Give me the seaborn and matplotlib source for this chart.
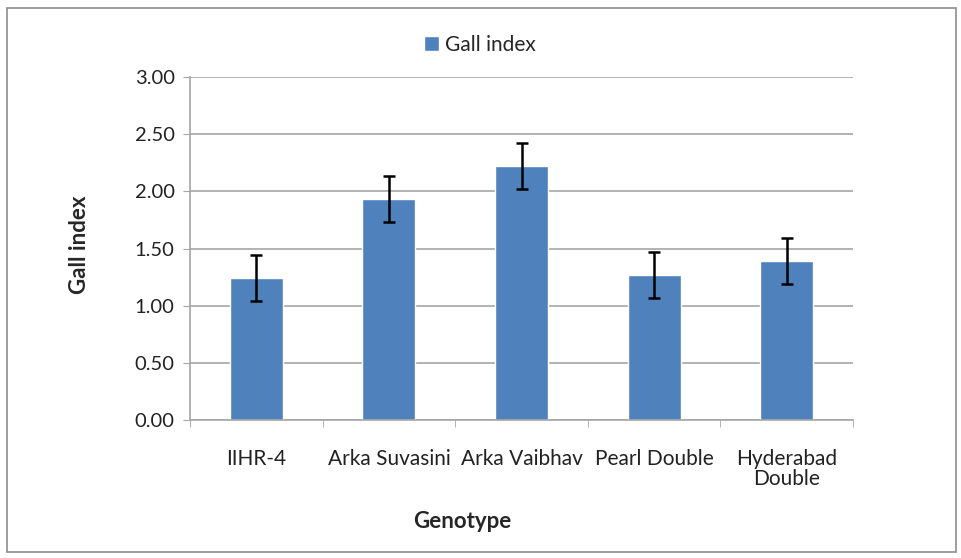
import matplotlib
matplotlib.use("Agg")
import matplotlib.pyplot as plt
from matplotlib.patches import Rectangle
from matplotlib.ticker import FixedLocator, MultipleLocator
import seaborn as sns
import pandas as pd

genotypes = ["IIHR-4", "Arka Suvasini", "Arka Vaibhav", "Pearl Double", "Hyderabad\nDouble"]
gall_index = [1.24, 1.93, 2.22, 1.27, 1.39]
gall_err = [0.20, 0.20, 0.20, 0.20, 0.20]

BAR = "#4F81BD"
GRID = "#A6A6A6"

sns.set_style("white")
plt.rcParams["font.family"] = ["Lato", "DejaVu Sans"]

df = pd.DataFrame({"Genotype": genotypes, "Gall index": gall_index})

fig = plt.figure(figsize=(9.61, 5.58), dpi=100)
ax = fig.add_axes([190 / 961, 1 - 420 / 558, (853 - 190) / 961, (420 - 77) / 558])

sns.barplot(data=df, x="Genotype", y="Gall index", color=BAR, width=0.4,
            saturation=1, label="Gall index", ax=ax, zorder=2)
xs = range(len(genotypes))
ax.errorbar(xs, gall_index, yerr=gall_err, fmt="none", ecolor="black",
            elinewidth=1.8, capsize=4, capthick=1.8, zorder=3)

ax.set_ylim(0, 3.0)
ax.set_xlim(-0.5, len(genotypes) - 0.5)
ax.yaxis.set_major_locator(MultipleLocator(0.5))
ax.set_yticklabels([f"{v:.2f}" for v in ax.get_yticks()])
ax.yaxis.grid(True, color=GRID, linewidth=1.2, zorder=0)
ax.set_axisbelow(True)

ax.xaxis.set_minor_locator(FixedLocator([i - 0.5 for i in range(len(genotypes) + 1)]))
ax.tick_params(axis="x", which="major", length=0, pad=21, labelsize=15, colors="#222222")
ax.tick_params(axis="x", which="minor", length=5, color=GRID, direction="out", bottom=True)
ax.tick_params(axis="y", length=5, color=GRID, direction="out", left=True, labelsize=14.5,
               labelcolor="#222222", pad=6)
for lbl in ax.get_xticklabels():
    lbl.set_verticalalignment("top")
    lbl.set_linespacing(1.0)

for side in ["top", "right"]:
    ax.spines[side].set_visible(False)
for side in ["left", "bottom"]:
    ax.spines[side].set_color(GRID)
    ax.spines[side].set_linewidth(1.2)

ax.set_xlabel("Genotype", fontsize=16, fontweight="bold")
ax.set_ylabel("Gall index", fontsize=16, fontweight="bold")
ax.xaxis.set_label_coords(462 / 961, 1 - 521 / 558, transform=fig.transFigure)
ax.yaxis.set_label_coords(80 / 961, 1 - 245 / 558, transform=fig.transFigure)
ax.xaxis.label.set_verticalalignment("center")
ax.yaxis.label.set_verticalalignment("center")

leg = ax.legend(loc="center", bbox_to_anchor=(480 / 961, 1 - 45 / 558),
                bbox_transform=fig.transFigure, frameon=False, fontsize=15,
                handlelength=0.7, handleheight=0.7, handletextpad=0.3)

fig.patches.append(Rectangle((7 / 961, 6 / 558), 949 / 961, 544 / 558, transform=fig.transFigure,
                             fill=False, edgecolor="#8C8C8C", linewidth=1.2))

fig.savefig("out.png", dpi=100, facecolor="white")
